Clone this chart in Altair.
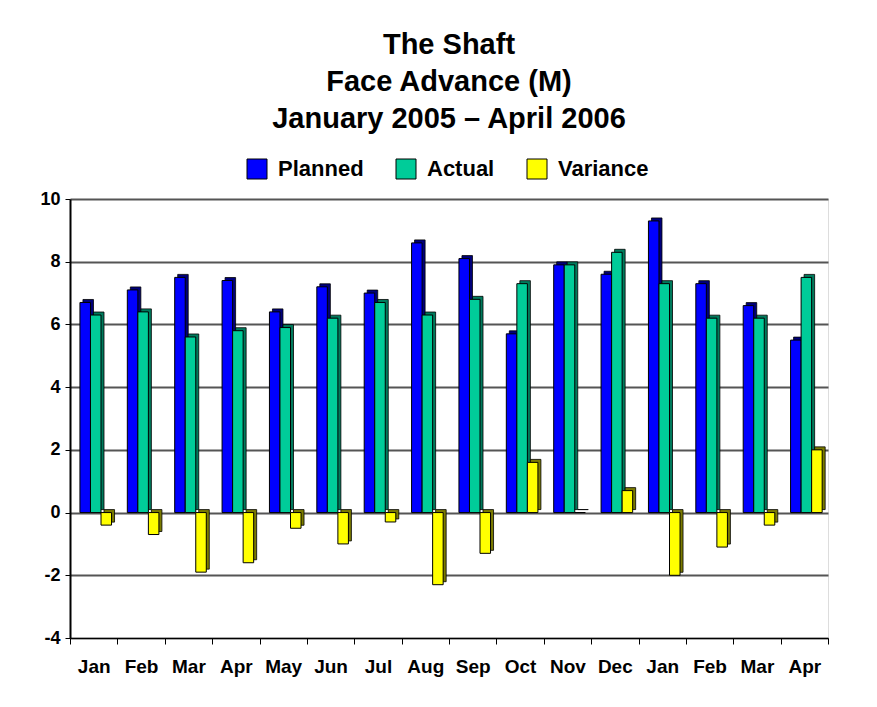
import altair as alt
import pandas as pd

months = ["Jan-05", "Feb-05", "Mar-05", "Apr-05", "May-05", "Jun-05", "Jul-05", "Aug-05",
          "Sep-05", "Oct-05", "Nov-05", "Dec-05", "Jan-06", "Feb-06", "Mar-06", "Apr-06"]
planned = [6.7, 7.1, 7.5, 7.4, 6.4, 7.2, 7.0, 8.6, 8.1, 5.7, 7.9, 7.6, 9.3, 7.3, 6.6, 5.5]
actual = [6.3, 6.4, 5.6, 5.8, 5.9, 6.2, 6.7, 6.3, 6.8, 7.3, 7.9, 8.3, 7.3, 6.2, 6.2, 7.5]
variance = [-0.4, -0.7, -1.9, -1.6, -0.5, -1.0, -0.3, -2.3, -1.3, 1.6, 0.0, 0.7, -2.0, -1.1, -0.4, 2.0]
series = ["Planned", "Actual", "Variance"]
colors = ["#0000FF", "#00CC99", "#FFFF00"]
side_colors = ["#00007A", "#007A5C", "#7A7A00"]

rows = []
for i, m in enumerate(months):
    for s, vals in zip(series, [planned, actual, variance]):
        rows.append({"month": m, "series": s, "value": vals[i], "side": s + " side"})
df = pd.DataFrame(rows)

font = "Liberation Sans"

x_enc = alt.X("month:N", sort=months,
              scale=alt.Scale(paddingInner=0, paddingOuter=0),
              axis=alt.Axis(title=None,
                            labelExpr="datum.value ? split(datum.value, '-')[0] : ''",
                            tickBand="extent", labelAngle=0, labelFont=font,
                            labelFontSize=19, labelFontWeight="bold", labelColor="black",
                            tickColor="black", tickSize=6, domainColor="black",
                            labelPadding=13, grid=False))
y_enc = alt.Y("value:Q", scale=alt.Scale(domain=[-4, 10], nice=False, zero=False),
              axis=alt.Axis(title=None, values=[-4, -2, 0, 2, 4, 6, 8, 10],
                            labelExpr="datum.value + ''",
                            labelFont=font, labelFontSize=18, labelFontWeight="bold",
                            labelColor="black", tickColor="black", tickSize=5,
                            domainColor="black", domainWidth=2, labelPadding=5,
                            grid=True, gridColor="#555555", gridWidth=2))

back = alt.Chart(df).mark_bar(yOffset=-3, stroke="black", strokeWidth=0.8).encode(
    x=x_enc,
    xOffset=alt.XOffset("series:N", sort=series,
                        scale=alt.Scale(paddingOuter=0.75, paddingInner=0, align=0.82)),
    y=y_enc,
    color=alt.Color("side:N", scale=alt.Scale(domain=[s + " side" for s in series],
                                              range=side_colors), legend=None),
)

front = alt.Chart(df).mark_bar(stroke="black", strokeWidth=1).encode(
    x=x_enc,
    xOffset=alt.XOffset("series:N", sort=series,
                        scale=alt.Scale(paddingOuter=0.75, paddingInner=0, align=0.63)),
    y=y_enc,
    color=alt.Color("series:N", sort=series,
                    scale=alt.Scale(domain=series, range=colors),
                    legend=alt.Legend(title=None, orient="none", direction="horizontal",
                                      legendX=176, legendY=-41, padding=0,
                                      symbolType="square", symbolSize=400,
                                      symbolStrokeColor="black", symbolStrokeWidth=1,
                                      symbolOpacity=1,
                                      labelFont=font, labelFontSize=22,
                                      labelFontWeight="bold", labelColor="black",
                                      labelOffset=10, columnPadding=30)),
)

chart = alt.layer(back, front).resolve_scale(color="independent", xOffset="independent").properties(
    width=758, height=439,
    padding={"left": 62, "top": 191, "right": 41, "bottom": 50},
    autosize=alt.AutoSizeParams(type="none"),
    title=alt.TitleParams(text=["The Shaft", "Face Advance (M)", "January 2005 – April 2006"],
                          font=font, fontSize=29, fontWeight="bold", color="black",
                          anchor="middle", lineHeight=37, offset=24),
).configure_view(stroke="black", strokeWidth=1.5).configure(background="white")

chart.save("out.html", embed_options={"renderer": "svg", "actions": False})
